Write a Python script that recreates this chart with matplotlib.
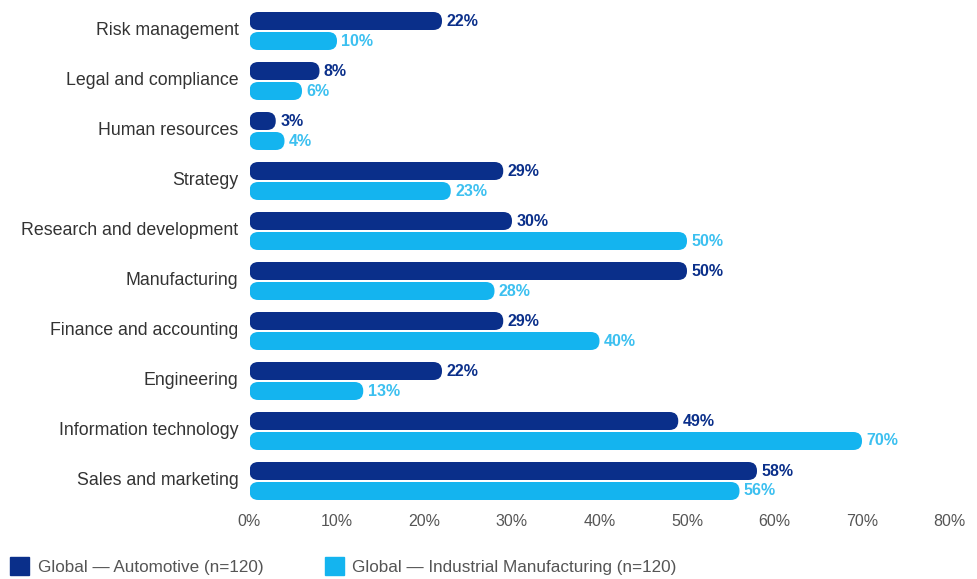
import matplotlib
matplotlib.use("Agg")
import matplotlib.pyplot as plt
from matplotlib.patches import FancyBboxPatch
import numpy as np

# Data
categories = ["Risk management", "Legal and compliance", "Human resources", "Strategy",
              "Research and development", "Manufacturing", "Finance and accounting",
              "Engineering", "Information technology", "Sales and marketing"]
automotive = [22, 8, 3, 29, 30, 50, 29, 22, 49, 58]
industrial = [10, 6, 4, 23, 50, 28, 40, 13, 70, 56]
xticks = [0, 10, 20, 30, 40, 50, 60, 70, 80]
legend_labels = ["Global \u2014 Automotive (n=120)", "Global \u2014 Industrial Manufacturing (n=120)"]

dark = "#0a2f8a"
light = "#14b4ef"

plt.rcParams["font.family"] = ["Liberation Sans", "DejaVu Sans"]

fig = plt.figure(figsize=(9.77, 5.79), dpi=100)
ax = fig.add_axes([249.5 / 977, 1 - 506 / 579, 700 / 977, 500 / 579])

y = np.arange(len(categories))
b1 = ax.barh(y - 0.2, automotive, height=0.36, color=dark)
b2 = ax.barh(y + 0.2, industrial, height=0.36, color=light)

# swap plain bars for rounded ones
for bars in (b1, b2):
    for p in bars.patches:
        rb = FancyBboxPatch((p.get_x(), p.get_y()), p.get_width(), p.get_height(),
                            boxstyle="round,pad=0,rounding_size=1.0",
                            mutation_aspect=0.175, facecolor=p.get_facecolor(),
                            edgecolor="none")
        ax.add_patch(rb)
        p.set_visible(False)

for i in range(len(categories)):
    ax.text(automotive[i] + 0.5, y[i] - 0.2, f"{automotive[i]}%", va="center", ha="left",
            fontsize=11.5, fontweight="bold", color=dark)
    ax.text(industrial[i] + 0.5, y[i] + 0.2, f"{industrial[i]}%", va="center", ha="left",
            fontsize=11.5, fontweight="bold", color="#3cc0f0")

ax.set_xlim(0, 80)
ax.set_ylim(9.5, -0.5)
ax.set_yticks(y - 0.05)
ax.set_yticklabels(categories, fontsize=12.8, color="#333333")
ax.set_xticks(xticks)
ax.set_xticklabels([f"{t}%" for t in xticks], fontsize=11.5, color="#555555")
ax.tick_params(length=0)
ax.tick_params(axis="y", pad=8)
ax.tick_params(axis="x", pad=6)
for s in ax.spines.values():
    s.set_visible(False)

# legend
h1 = plt.Rectangle((0, 0), 1, 1, color=dark)
h2 = plt.Rectangle((0, 0), 1, 1, color=light)
fig.legend([h1, h2], legend_labels, loc="lower left", bbox_to_anchor=(-0.005, -0.02),
           ncol=2, frameon=False, fontsize=12.3, handlelength=1.1, handleheight=1.3,
           handletextpad=0.5, columnspacing=3.6, labelcolor="#555555")

fig.savefig("out.png", dpi=100)
